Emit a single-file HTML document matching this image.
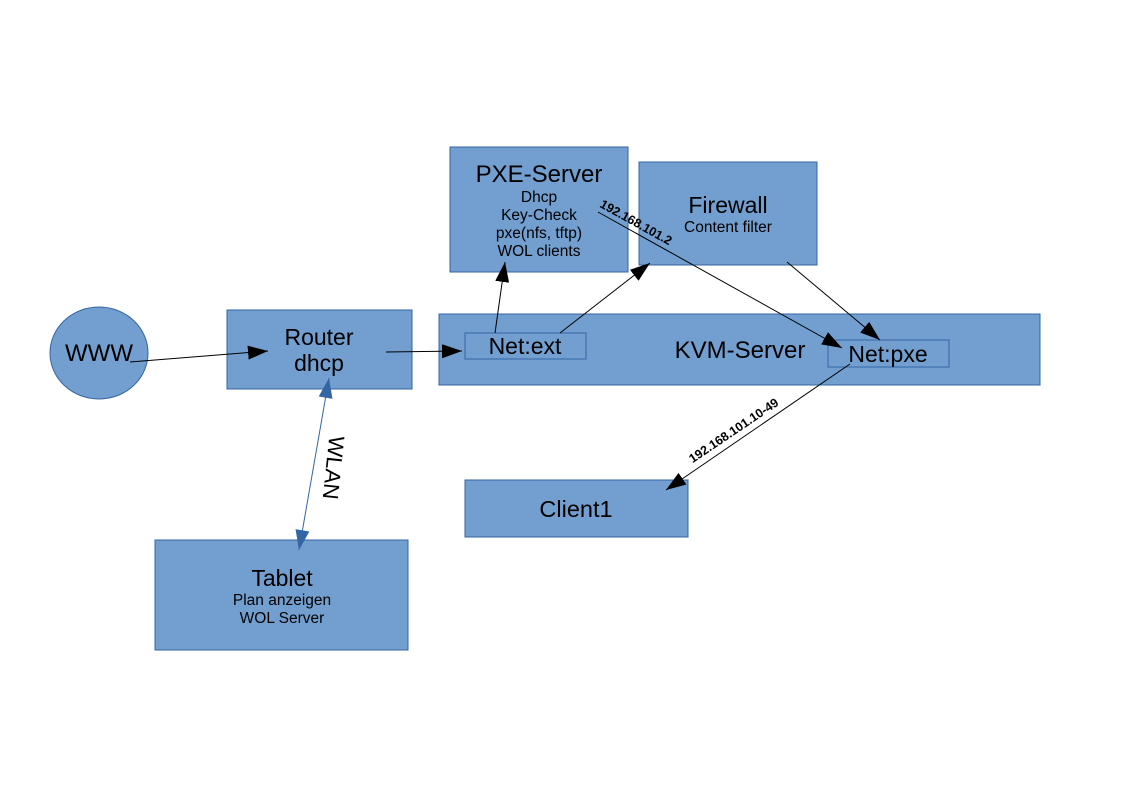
<!DOCTYPE html>
<html><head><meta charset="utf-8"><style>
html,body{margin:0;padding:0;background:#fff;}
svg{display:block;font-family:"Liberation Sans",sans-serif;}
</style></head><body>
<svg width="1123" height="794" viewBox="0 0 1123 794" xmlns="http://www.w3.org/2000/svg">
<defs>
<marker id="a2" viewBox="0 0 20 14" refX="20" refY="7" markerWidth="20" markerHeight="14" markerUnits="userSpaceOnUse" orient="auto"><path d="M0,0 L20,7 L0,14 z" fill="#000"/></marker>
<marker id="b2" viewBox="0 0 20 14" refX="20" refY="7" markerWidth="20" markerHeight="14" markerUnits="userSpaceOnUse" orient="auto-start-reverse"><path d="M0,0 L20,7 L0,14 z" fill="#3465a4"/></marker>
</defs>
<g fill="#729fcf" stroke="#3465a4" stroke-width="1">
<ellipse cx="99" cy="353" rx="49" ry="46"/>
<rect x="227" y="310" width="185" height="79"/>
<rect x="450" y="147" width="178" height="125"/>
<rect x="639" y="162" width="178" height="103"/>
<rect x="439" y="314" width="601" height="71"/>
<rect x="465" y="333" width="121" height="26"/>
<rect x="828" y="340" width="121" height="27"/>
<rect x="465" y="480" width="223" height="57"/>
<rect x="155" y="540" width="253" height="110"/>
</g>
<g fill="#000" text-anchor="middle">
<text x="99" y="361" font-size="24">WWW</text>
<text x="319" y="345" font-size="23">Router</text>
<text x="319" y="371" font-size="23">dhcp</text>
<text x="539" y="182" font-size="24">PXE-Server</text>
<text x="539" y="202" font-size="15.5">Dhcp</text>
<text x="539" y="220" font-size="15.5">Key-Check</text>
<text x="539" y="238" font-size="15.5">pxe(nfs, tftp)</text>
<text x="539" y="256" font-size="15.5">WOL clients</text>
<text x="728" y="213" font-size="23">Firewall</text>
<text x="728" y="232" font-size="15.5">Content filter</text>
<text x="740" y="358" font-size="24">KVM-Server</text>
<text x="525" y="354" font-size="23">Net:ext</text>
<text x="888" y="362" font-size="23">Net:pxe</text>
<text x="576" y="517" font-size="23.5">Client1</text>
<text x="282" y="586" font-size="23">Tablet</text>
<text x="282" y="605" font-size="15.5">Plan anzeigen</text>
<text x="282" y="623" font-size="15.5">WOL Server</text>
</g>
<g stroke="#000" stroke-width="1" fill="none">
<line x1="130" y1="362" x2="268" y2="351" marker-end="url(#a2)"/>
<line x1="386" y1="352" x2="462" y2="351" marker-end="url(#a2)"/>
<line x1="495" y1="333" x2="505" y2="262" marker-end="url(#a2)"/>
<line x1="560" y1="333" x2="650" y2="263" marker-end="url(#a2)"/>
<line x1="598" y1="212" x2="842" y2="348" marker-end="url(#a2)"/>
<line x1="787" y1="262" x2="880" y2="340" marker-end="url(#a2)"/>
<line x1="850" y1="364" x2="666" y2="490" marker-end="url(#a2)"/>
</g>
<line x1="329" y1="378" x2="299" y2="550" stroke="#3465a4" stroke-width="1" marker-start="url(#b2)" marker-end="url(#b2)"/>
<text x="0" y="0" font-size="22" text-anchor="middle" transform="translate(326,467) rotate(96)">WLAN</text>
<text x="0" y="0" font-size="12.5" font-weight="bold" text-anchor="middle" transform="translate(634,226) rotate(29)">192.168.101.2</text>
<text x="0" y="0" font-size="12.5" font-weight="bold" text-anchor="middle" transform="translate(736,434) rotate(-34)">192.168.101.10-49</text>
</svg>
</body></html>
